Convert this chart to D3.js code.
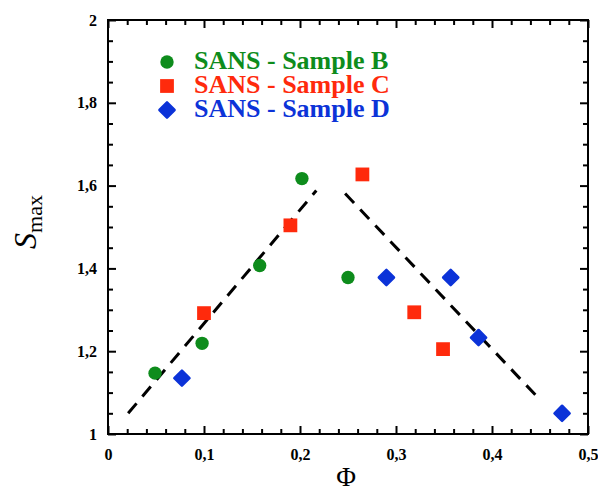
<!DOCTYPE html>
<html>
<head>
<meta charset="utf-8">
<script src="https://cdn.jsdelivr.net/npm/d3@7"></script>
<style>
  body { margin: 0; background: #fff; }
  svg { display: block; }
</style>
</head>
<body>
<svg id="chart" width="598" height="492"></svg>
<script>
const xTicks = [0, 0.1, 0.2, 0.3, 0.4, 0.5];
const yTicks = [1, 1.2, 1.4, 1.6, 1.8, 2];

const seriesNames = ["SANS - Sample B", "SANS - Sample C", "SANS - Sample D"];
const sampleB = [[0.049, 1.147], [0.098, 1.219], [0.158, 1.407], [0.202, 1.617], [0.250, 1.378]];
const sampleC = [[0.100, 1.292], [0.190, 1.504], [0.265, 1.627], [0.319, 1.294], [0.349, 1.205]];
const sampleD = [[0.077, 1.135], [0.290, 1.378], [0.357, 1.378], [0.386, 1.233], [0.473, 1.050]];

const fitLeft = [[0.021, 1.05], [0.217, 1.588]];
const fitRight = [[0.247, 1.581], [0.447, 1.09]];

const colors = ["#0e8c1c", "#ff2a0c", "#0c33d8"];
const serif = "'Liberation Serif', 'Times New Roman', serif";

const svg = d3.select("#chart");
const margin = { top: 20, right: 10, bottom: 58, left: 108 };
const width = 598 - margin.left - margin.right;
const height = 492 - margin.top - margin.bottom;

const x = d3.scaleLinear().domain([0, 0.5]).range([0, width]);
const y = d3.scaleLinear().domain([1, 2]).range([height, 0]);

const g = svg.append("g").attr("transform", `translate(${margin.left},${margin.top})`);

const fmt = (d) => String(+d.toFixed(2)).replace(".", ",");
const xMinor = d3.range(0, 0.501, 0.02).filter((v) => Math.abs(v * 10 - Math.round(v * 10)) > 1e-6);
const yMinor = d3.range(1, 2.001, 0.05).filter((v) => Math.abs(v * 5 - Math.round(v * 5)) > 1e-6);

const styleAxis = (sel) => {
  sel.select(".domain").remove();
  sel.selectAll(".tick line").attr("stroke", "#000").attr("stroke-width", 2);
  sel.selectAll(".tick text")
    .attr("fill", "#000")
    .style("font-family", serif)
    .style("font-weight", "bold")
    .style("font-size", "16px");
};

// major + minor ticks on all four sides, pointing inward
g.append("g").attr("transform", `translate(0,${height})`)
  .call(d3.axisBottom(x).tickValues(xTicks).tickFormat(fmt).tickSizeInner(-8).tickSizeOuter(0).tickPadding(15))
  .call(styleAxis);
g.append("g").attr("transform", `translate(0,${height})`)
  .call(d3.axisBottom(x).tickValues(xMinor).tickFormat("").tickSizeInner(-5).tickSizeOuter(0))
  .call(styleAxis);
g.append("g")
  .call(d3.axisTop(x).tickValues(xTicks).tickFormat("").tickSizeInner(-8).tickSizeOuter(0))
  .call(styleAxis);
g.append("g")
  .call(d3.axisTop(x).tickValues(xMinor).tickFormat("").tickSizeInner(-5).tickSizeOuter(0))
  .call(styleAxis);

g.append("g")
  .call(d3.axisLeft(y).tickValues(yTicks).tickFormat(fmt).tickSizeInner(-8).tickSizeOuter(0).tickPadding(11))
  .call(styleAxis);
g.append("g")
  .call(d3.axisLeft(y).tickValues(yMinor).tickFormat("").tickSizeInner(-5).tickSizeOuter(0))
  .call(styleAxis);
g.append("g").attr("transform", `translate(${width},0)`)
  .call(d3.axisRight(y).tickValues(yTicks).tickFormat("").tickSizeInner(-8).tickSizeOuter(0))
  .call(styleAxis);
g.append("g").attr("transform", `translate(${width},0)`)
  .call(d3.axisRight(y).tickValues(yMinor).tickFormat("").tickSizeInner(-5).tickSizeOuter(0))
  .call(styleAxis);

g.append("rect")
  .attr("width", width)
  .attr("height", height)
  .attr("fill", "none")
  .attr("stroke", "#000")
  .attr("stroke-width", 2);

// dashed fit lines
const line = d3.line().x((d) => x(d[0])).y((d) => y(d[1]));
[fitLeft, fitRight].forEach((pts) => {
  g.append("path")
    .attr("d", line(pts))
    .attr("fill", "none")
    .attr("stroke", "#000")
    .attr("stroke-width", 3)
    .attr("stroke-dasharray", "13,9");
});

// markers
const shapes = [
  { type: d3.symbolCircle, size: 140, rotate: 0 },
  { type: d3.symbolSquare, size: 190, rotate: 0 },
  { type: d3.symbolSquare, size: 115, rotate: 45 },
];

const drawMarker = (sel, i) => {
  sel.attr("d", d3.symbol(shapes[i].type, shapes[i].size)())
    .attr("fill", colors[i])
    .attr("stroke", colors[i])
    .attr("stroke-width", i === 2 ? 2.5 : 0)
    .attr("stroke-linejoin", "round");
};

[sampleB, sampleC, sampleD].forEach((data, i) => {
  g.selectAll(null)
    .data(data)
    .enter()
    .append("path")
    .attr("transform", (d) => `translate(${x(d[0])},${y(d[1])}) rotate(${shapes[i].rotate})`)
    .call(drawMarker, i);
});

// legend
const legend = svg.append("g");
seriesNames.forEach((name, i) => {
  const cy = 62 + i * 24;
  legend.append("path")
    .attr("transform", `translate(167,${cy}) rotate(${shapes[i].rotate})`)
    .call(drawMarker, i);
  legend.append("text")
    .attr("x", 194)
    .attr("y", cy + 7)
    .attr("fill", colors[i])
    .style("font-family", serif)
    .style("font-weight", "bold")
    .style("font-size", "26px")
    .text(name);
});

// axis titles
svg.append("text")
  .attr("x", margin.left + width / 2 - 2)
  .attr("y", 486)
  .attr("text-anchor", "middle")
  .style("font-family", serif)
  .style("font-size", "27px")
  .text("Φ");

const yTitle = svg.append("text")
  .attr("transform", `translate(36,${margin.top + height / 2 - 5}) rotate(-90)`)
  .attr("text-anchor", "middle")
  .style("font-family", serif);
yTitle.append("tspan").style("font-style", "italic").style("font-size", "32px").text("S");
yTitle.append("tspan").attr("dy", 6).style("font-size", "22px").text("max");
</script>
</body>
</html>
